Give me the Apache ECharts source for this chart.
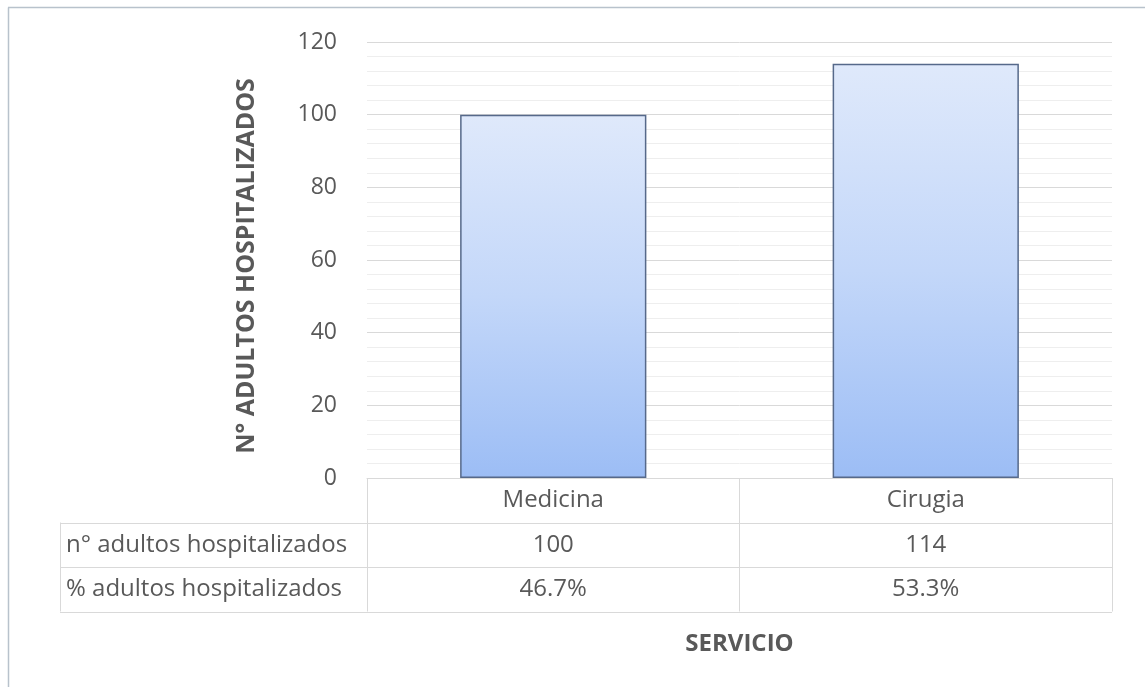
<!DOCTYPE html>
<html>
<head>
<meta charset="utf-8">
<script src="https://cdn.jsdelivr.net/npm/echarts@6/dist/echarts.min.js"></script>
<style>
html,body{margin:0;padding:0;background:#fff;}
#c{width:1145px;height:687px;}
</style>
</head>
<body>
<div id="c"></div>
<script>
const categories = ['Medicina', 'Cirugia'];
const counts = [100, 114];
const percents = ['46.7%', '53.3%'];
const rowLabels = ['n° adultos hospitalizados', '% adultos hospitalizados'];
const yTitle = 'N° ADULTOS HOSPITALIZADOS';
const xTitle = 'SERVICIO';

const FONT = '"Open Sans", sans-serif';
const TXT = '#595959';
const GRID = { left: 367, right: 33, top: 42, bottom: 209 };
const ROW_H = 44.5;
const TABLE_LEFT = 60;
const LINE = '#d9d9d9';

const chart = echarts.init(document.getElementById('c'));

const axisBottom = 687 - GRID.bottom;
const tableRight = 1145 - GRID.right;
const graphics = [
  { type: 'line', shape: { x1: 8.5, y1: 7.5, x2: 8.5, y2: 687 }, style: { stroke: '#b8c2cc', lineWidth: 1.5 } },
  { type: 'line', shape: { x1: 8, y1: 7.5, x2: 1145, y2: 7.5 }, style: { stroke: '#b8c2cc', lineWidth: 1.5 } },
];
for (let r = 1; r <= 3; r++) {
  const y = Math.round(axisBottom + r * ROW_H) + 0.5;
  graphics.push({ type: 'line', shape: { x1: TABLE_LEFT, y1: y, x2: tableRight, y2: y }, style: { stroke: LINE, lineWidth: 1 } });
}
graphics.push({ type: 'line', shape: { x1: TABLE_LEFT + 0.5, y1: axisBottom + ROW_H, x2: TABLE_LEFT + 0.5, y2: axisBottom + 3 * ROW_H }, style: { stroke: LINE, lineWidth: 1 } });
rowLabels.forEach((t, i) => {
  graphics.push({ type: 'text', x: TABLE_LEFT + 6, y: axisBottom + (i + 1.5) * ROW_H,
    style: { text: t, fill: TXT, font: '24px ' + FONT, textVerticalAlign: 'middle', textAlign: 'left' } });
});

chart.setOption({
  animation: false,
  backgroundColor: '#fff',
  grid: GRID,
  xAxis: {
    type: 'category',
    data: categories,
    name: xTitle,
    nameLocation: 'middle',
    nameGap: 154,
    nameTextStyle: { color: TXT, fontFamily: FONT, fontSize: 24, fontWeight: 'bold' },
    axisLine: { show: true, lineStyle: { color: LINE, width: 1 } },
    axisTick: { show: true, interval: 0, length: 3 * ROW_H, lineStyle: { color: LINE } },
    axisLabel: {
      interval: 0,
      margin: 0,
      color: TXT,
      fontFamily: FONT,
      fontSize: 24,
      lineHeight: ROW_H,
      formatter: (v, i) => v + '\n' + counts[i] + '\n' + percents[i]
    }
  },
  yAxis: {
    type: 'value',
    min: 0, max: 120, interval: 20,
    name: yTitle,
    nameLocation: 'middle',
    nameGap: 108,
    nameRotate: 90,
    nameTextStyle: { color: TXT, fontFamily: FONT, fontSize: 25, fontWeight: 'bold', padding: [0, 12, 0, 0] },
    axisLine: { show: false },
    axisTick: { show: false },
    axisLabel: { color: TXT, fontFamily: FONT, fontSize: 23, margin: 30 },
    splitLine: { lineStyle: { color: '#d9d9d9', width: 1 } },
    minorTick: { show: false, splitNumber: 5 },
    minorSplitLine: { show: true, lineStyle: { color: '#eeeeee', width: 1 } }
  },
  series: [{
    type: 'bar',
    data: counts,
    barWidth: '50%',
    itemStyle: {
      color: new echarts.graphic.LinearGradient(0, 0, 0, 1, [
        { offset: 0, color: '#dfe9fb' },
        { offset: 0.5, color: '#c3d7f9' },
        { offset: 1, color: '#9cbdf5' }
      ]),
      borderColor: '#56698a',
      borderWidth: 1.5
    }
  }],
  graphic: graphics
});
</script>
</body>
</html>
